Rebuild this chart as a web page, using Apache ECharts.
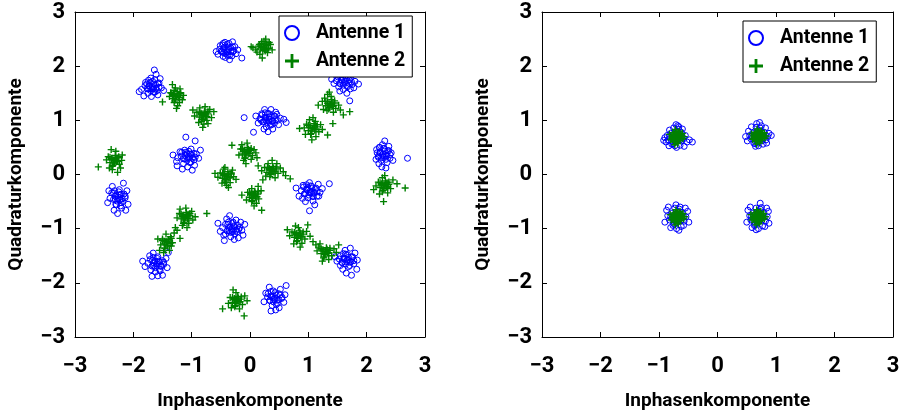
<!DOCTYPE html>
<html>
<head>
<meta charset="utf-8">
<script src="https://cdn.jsdelivr.net/npm/echarts@6/dist/echarts.min.js"></script>
<style>
  html, body { margin: 0; padding: 0; background: #fff; }
  #chart { width: 903px; height: 411px; }
</style>
</head>
<body>
<div id="chart"></div>
<script>
// Empfangene Symbole vor der Entzerrung (links) und danach (rechts), je Antenne.
const seriesNames = ['Antenne 1', 'Antenne 2'];
const axisTicks = [-3, -2, -1, 0, 1, 2, 3];
const xTitle = 'Inphasenkomponente';
const yTitle = 'Quadraturkomponente';

// Antenne 1, vor der Entzerrung
const ant1Before = [
  [-0.40,2.30],[-0.45,2.25],[-0.33,2.34],[-0.52,2.31],[-0.38,2.20],[-0.29,2.27],[-0.47,2.39],[-0.36,2.42],[-0.55,2.22],[-0.42,2.16],[-0.26,2.36],[-0.31,2.19],[-0.49,2.28],[-0.37,2.32],[-0.44,2.35],[-0.21,2.30],[-0.58,2.27],[-0.35,2.12],[-0.30,2.45],[-0.43,2.44],[-0.39,2.26],[-0.46,2.18],[-0.24,2.23],[-0.14,2.15],
  [-0.37,2.35],[-0.45,2.32],[-0.33,2.27],[-0.42,2.23],[-0.30,2.36],[-0.48,2.26],[-0.39,2.40],[-0.51,2.38],[-0.35,2.20],[-0.46,2.42],[-0.28,2.29],[-0.40,2.27],
  [-1.68,1.62],[-1.62,1.66],[-1.74,1.58],[-1.59,1.55],[-1.71,1.70],[-1.80,1.64],[-1.65,1.52],[-1.56,1.69],[-1.75,1.50],[-1.63,1.75],[-1.86,1.57],[-1.70,1.78],[-1.52,1.60],[-1.90,1.53],[-1.58,1.47],[-1.66,1.58],[-1.77,1.67],[-1.61,1.85],[-1.64,1.93],[-1.82,1.45],[-1.69,1.44],[-1.54,1.77],[-1.48,1.55],[-1.73,1.63],
  [-1.65,1.67],[-1.73,1.64],[-1.61,1.59],[-1.70,1.55],[-1.58,1.68],[-1.76,1.58],[-1.67,1.72],[-1.79,1.70],[-1.63,1.52],[-1.74,1.74],[-1.56,1.61],[-1.68,1.59],
  [0.32,1.02],[0.26,1.06],[0.38,0.98],[0.22,0.97],[0.41,1.08],[0.30,1.13],[0.35,0.91],[0.17,1.03],[0.47,1.00],[0.28,0.88],[0.44,1.15],[0.20,1.12],[0.52,1.04],[0.36,1.20],[0.14,0.95],[0.39,0.84],[0.24,0.84],[0.33,1.06],[0.27,1.00],[0.49,0.92],[0.58,1.02],[0.10,1.08],[0.31,0.79],[0.06,0.78],[-0.10,1.05],[0.62,0.96],[0.42,0.95],[0.25,1.20],
  [0.35,1.07],[0.27,1.04],[0.39,0.99],[0.30,0.95],[0.42,1.08],[0.24,0.98],[0.33,1.12],[0.21,1.10],[0.37,0.92],[0.26,1.14],[0.44,1.01],[0.32,0.99],[0.46,1.11],[0.19,1.00],
  [1.62,1.72],[1.55,1.68],[1.70,1.75],[1.48,1.73],[1.66,1.64],[1.58,1.80],[1.75,1.66],[1.52,1.62],[1.68,1.82],[1.44,1.68],[1.80,1.72],[1.60,1.57],[1.72,1.58],[1.64,1.90],[1.50,1.85],[1.78,1.60],[1.57,1.75],[1.86,1.67],[1.40,1.76],[1.71,1.36],[1.66,1.50],[1.54,1.54],[1.76,1.85],
  [1.65,1.77],[1.57,1.74],[1.69,1.69],[1.60,1.65],[1.72,1.78],[1.54,1.68],[1.63,1.82],[1.51,1.80],[1.67,1.62],[1.56,1.84],[1.74,1.71],[1.62,1.69],
  [-1.06,0.33],[-1.00,0.37],[-1.12,0.29],[-0.96,0.27],[-1.10,0.41],[-1.18,0.34],[-1.03,0.22],[-0.92,0.38],[-1.14,0.20],[-1.01,0.47],[-1.24,0.31],[-0.88,0.30],[-1.07,0.14],[-0.95,0.17],[-1.20,0.42],[-1.08,0.38],[-1.26,0.24],[-1.10,0.69],[-0.94,0.62],[-1.25,0.16],[-1.32,0.36],[-0.85,0.45],[-1.16,0.10],[-0.99,0.08],
  [-1.03,0.38],[-1.11,0.35],[-0.99,0.30],[-1.08,0.26],[-0.96,0.39],[-1.14,0.29],[-1.05,0.43],[-1.17,0.41],[-1.01,0.23],[-1.12,0.45],[-0.94,0.32],[-1.06,0.30],
  [2.28,0.38],[2.23,0.42],[2.33,0.35],[2.20,0.32],[2.30,0.48],[2.36,0.44],[2.25,0.26],[2.40,0.30],[2.18,0.40],[2.27,0.55],[2.35,0.22],[2.21,0.20],[2.31,0.62],[2.42,0.40],[2.16,0.28],[2.26,0.14],[2.38,0.52],[2.33,0.12],[2.22,0.50],[2.70,0.30],[2.29,0.32],[2.45,0.26],
  [2.31,0.43],[2.23,0.40],[2.35,0.35],[2.26,0.31],[2.38,0.44],[2.20,0.34],[2.29,0.48],[2.17,0.46],[2.33,0.28],[2.22,0.50],[2.40,0.37],[2.28,0.35],
  [-2.26,-0.42],[-2.21,-0.37],[-2.31,-0.46],[-2.18,-0.50],[-2.34,-0.34],[-2.24,-0.28],[-2.29,-0.56],[-2.14,-0.40],[-2.40,-0.44],[-2.20,-0.62],[-2.36,-0.22],[-2.11,-0.30],[-2.33,-0.66],[-2.17,-0.16],[-2.44,-0.52],[-2.27,-0.72],[-2.09,-0.55],[-2.42,-0.30],[-2.23,-0.47],[-2.30,-0.38],[-2.13,-0.66],
  [-2.23,-0.37],[-2.31,-0.40],[-2.19,-0.45],[-2.28,-0.49],[-2.16,-0.36],[-2.34,-0.46],[-2.25,-0.32],[-2.37,-0.34],[-2.21,-0.52],[-2.32,-0.30],[-2.14,-0.43],[-2.26,-0.45],[-2.22,-0.58],[-2.30,-0.55],
  [1.03,-0.31],[0.97,-0.27],[1.09,-0.35],[0.93,-0.36],[1.06,-0.22],[1.12,-0.28],[0.99,-0.43],[1.15,-0.40],[0.88,-0.30],[1.02,-0.15],[1.20,-0.33],[0.91,-0.20],[1.08,-0.49],[0.84,-0.40],[1.17,-0.18],[0.95,-0.50],[1.24,-0.26],[1.36,-0.17],[1.02,-0.67],[0.79,-0.25],[1.11,-0.56],[1.05,-0.33],[0.99,-0.24],
  [1.06,-0.26],[0.98,-0.29],[1.10,-0.34],[1.01,-0.38],[1.13,-0.25],[0.95,-0.35],[1.04,-0.21],[0.92,-0.23],[1.08,-0.41],[0.97,-0.19],[1.15,-0.32],[1.03,-0.34],[0.90,-0.44],[1.18,-0.40],
  [-0.31,-1.00],[-0.26,-0.96],[-0.36,-1.04],[-0.22,-1.06],[-0.38,-0.92],[-0.29,-0.88],[-0.42,-1.10],[-0.18,-0.98],[-0.33,-1.15],[-0.47,-0.98],[-0.24,-0.84],[-0.14,-1.03],[-0.40,-0.82],[-0.51,-1.05],[-0.27,-1.20],[-0.12,-1.12],[-0.55,-0.90],[-0.35,-0.76],[-0.20,-1.17],[-0.44,-1.22],[-0.30,-1.06],[-0.34,-0.97],[-0.09,-0.92],
  [-0.28,-0.95],[-0.36,-0.98],[-0.24,-1.03],[-0.33,-1.07],[-0.21,-0.94],[-0.39,-1.04],[-0.30,-0.90],[-0.42,-0.92],[-0.26,-1.10],[-0.37,-0.88],[-0.19,-1.01],[-0.31,-1.03],[-0.45,-1.12],[-0.16,-0.88],
  [-1.60,-1.65],[-1.55,-1.61],[-1.65,-1.69],[-1.52,-1.70],[-1.67,-1.58],[-1.58,-1.52],[-1.70,-1.76],[-1.48,-1.62],[-1.62,-1.80],[-1.75,-1.64],[-1.54,-1.78],[-1.44,-1.55],[-1.72,-1.50],[-1.80,-1.70],[-1.58,-1.87],[-1.42,-1.72],[-1.66,-1.45],[-1.84,-1.60],[-1.50,-1.86],[-1.63,-1.60],[-1.40,-1.44],[-1.68,-1.88],
  [-1.57,-1.60],[-1.65,-1.63],[-1.53,-1.68],[-1.62,-1.72],[-1.50,-1.59],[-1.68,-1.69],[-1.59,-1.55],[-1.71,-1.57],[-1.55,-1.75],[-1.66,-1.53],[-1.48,-1.66],[-1.60,-1.68],
  [1.66,-1.58],[1.61,-1.54],[1.71,-1.62],[1.58,-1.63],[1.74,-1.52],[1.64,-1.47],[1.69,-1.70],[1.53,-1.56],[1.78,-1.65],[1.55,-1.68],[1.80,-1.45],[1.63,-1.40],[1.49,-1.60],[1.84,-1.58],[1.72,-1.36],[1.83,-1.75],[1.65,-1.82],[1.74,-1.86],[1.46,-1.52],[1.68,-1.57],[1.59,-1.75],
  [1.69,-1.53],[1.61,-1.56],[1.73,-1.61],[1.64,-1.65],[1.76,-1.52],[1.58,-1.62],[1.67,-1.48],[1.55,-1.50],[1.71,-1.68],[1.60,-1.46],[1.78,-1.59],[1.66,-1.61],
  [0.42,-2.28],[0.37,-2.24],[0.47,-2.32],[0.34,-2.33],[0.49,-2.20],[0.40,-2.15],[0.45,-2.40],[0.30,-2.26],[0.55,-2.27],[0.38,-2.42],[0.52,-2.12],[0.27,-2.19],[0.58,-2.36],[0.33,-2.08],[0.44,-2.50],[0.24,-2.35],[0.60,-2.22],[0.50,-2.46],[0.36,-2.52],[0.41,-2.30],[0.62,-2.05],
  [0.45,-2.23],[0.37,-2.26],[0.49,-2.31],[0.40,-2.35],[0.52,-2.22],[0.34,-2.32],[0.43,-2.18],[0.31,-2.20],[0.47,-2.38],[0.36,-2.16],[0.54,-2.29],[0.42,-2.31]
];

// Antenne 2, vor der Entzerrung
const ant2Before = [
  [0.23,2.35],[0.18,2.32],[0.28,2.38],[0.14,2.37],[0.26,2.28],[0.20,2.42],[0.32,2.33],[0.10,2.30],[0.24,2.46],[0.35,2.40],[0.17,2.22],[0.30,2.25],[0.05,2.34],[0.38,2.30],[0.21,2.15],[0.02,2.36],[0.27,2.50],[0.12,2.26],[0.33,2.44],[0.25,2.31],
  [0.26,2.39],[0.19,2.36],[0.29,2.32],[0.22,2.29],[0.16,2.40],[0.31,2.41],[0.24,2.34],[0.20,2.45],
  [-1.27,1.45],[-1.31,1.48],[-1.22,1.42],[-1.33,1.40],[-1.25,1.53],[-1.19,1.49],[-1.29,1.36],[-1.36,1.51],[-1.21,1.33],[-1.28,1.60],[-1.16,1.38],[-1.38,1.44],[-1.24,1.27],[-1.33,1.66],[-1.14,1.46],[-1.50,1.34],[-1.26,1.22],[-1.30,1.55],[-1.20,1.58],
  [-1.24,1.49],[-1.31,1.46],[-1.21,1.42],[-1.28,1.39],[-1.34,1.50],[-1.19,1.51],[-1.26,1.44],[-1.30,1.33],
  [-0.80,1.10],[-0.84,1.13],[-0.76,1.07],[-0.87,1.06],[-0.78,1.17],[-0.72,1.12],[-0.83,1.01],[-0.91,1.15],[-0.74,1.00],[-0.69,1.20],[-0.86,1.23],[-0.95,1.08],[-0.79,0.93],[-0.66,1.05],[-0.81,0.87],[-0.62,1.16],[-0.98,1.19],[-0.88,0.96],[-0.77,1.25],[-0.72,0.94],
  [-0.77,1.14],[-0.84,1.11],[-0.74,1.07],[-0.81,1.04],[-0.87,1.15],[-0.72,1.16],[-0.79,1.09],[-0.83,0.98],
  [1.37,1.30],[1.33,1.34],[1.41,1.26],[1.30,1.27],[1.40,1.38],[1.45,1.32],[1.35,1.21],[1.28,1.41],[1.47,1.22],[1.33,1.48],[1.43,1.15],[1.24,1.35],[1.52,1.28],[1.39,1.44],[1.17,1.28],[1.71,1.16],[1.42,0.94],[1.55,1.19],[1.26,1.20],[1.36,1.52],[1.60,1.10],
  [1.40,1.34],[1.33,1.31],[1.43,1.27],[1.36,1.24],[1.30,1.35],[1.45,1.36],[1.38,1.29],[1.32,1.18],
  [1.07,0.86],[1.03,0.90],[1.11,0.83],[1.00,0.81],[1.10,0.94],[1.15,0.88],[1.05,0.76],[0.97,0.93],[1.18,0.79],[1.02,1.01],[1.13,0.70],[0.93,0.86],[1.21,0.92],[1.08,1.05],[0.85,0.85],[1.33,0.73],[1.06,0.64],[0.95,0.74],[1.24,0.83],[1.12,0.98],
  [1.10,0.90],[1.03,0.87],[1.13,0.83],[1.06,0.80],[1.00,0.91],[1.15,0.92],[1.08,0.85],[1.04,0.74],
  [-2.33,0.27],[-2.37,0.30],[-2.29,0.24],[-2.40,0.22],[-2.31,0.35],[-2.26,0.31],[-2.35,0.17],[-2.43,0.33],[-2.24,0.19],[-2.30,0.43],[-2.20,0.26],[-2.46,0.27],[-2.36,0.09],[-2.38,0.46],[-2.22,0.12],[-2.60,0.14],[-2.27,0.04],[-2.41,0.12],[-2.19,0.36],[-2.32,0.23],
  [-2.30,0.31],[-2.37,0.28],[-2.27,0.24],[-2.34,0.21],[-2.40,0.32],[-2.25,0.33],[-2.32,0.26],[-2.36,0.15],
  [-0.06,0.42],[-0.10,0.45],[-0.02,0.39],[-0.13,0.38],[-0.04,0.50],[0.01,0.44],[-0.08,0.32],[-0.16,0.47],[0.04,0.35],[-0.05,0.58],[0.07,0.46],[-0.19,0.36],[-0.11,0.26],[0.02,0.28],[-0.31,0.54],[0.10,0.40],[-0.07,0.20],[-0.14,0.55],[0.12,0.31],[-0.03,0.45],
  [-0.03,0.46],[-0.10,0.43],[0.00,0.39],[-0.07,0.36],[-0.13,0.47],[0.02,0.48],[-0.05,0.41],[-0.09,0.30],
  [0.37,0.08],[0.33,0.11],[0.41,0.05],[0.29,0.04],[0.39,0.15],[0.45,0.10],[0.35,0.00],[0.25,0.13],[0.48,0.02],[0.31,0.20],[0.52,0.12],[0.20,0.07],[0.43,-0.06],[0.27,-0.03],[0.57,0.05],[0.14,0.16],[0.61,-0.02],[0.38,0.26],[0.22,-0.10],[0.46,0.20],[0.69,-0.08],
  [0.40,0.12],[0.33,0.09],[0.43,0.05],[0.36,0.02],[0.30,0.13],[0.45,0.14],[0.38,0.07],[0.34,-0.04],
  [-0.40,-0.03],[-0.44,0.00],[-0.36,-0.06],[-0.47,-0.07],[-0.38,0.05],[-0.32,0.01],[-0.42,-0.12],[-0.51,0.03],[-0.34,-0.15],[-0.45,0.10],[-0.28,-0.04],[-0.55,-0.05],[-0.40,-0.20],[-0.30,0.08],[-0.48,-0.16],[-0.60,0.02],[-0.37,-0.24],[-0.24,-0.09],[-0.43,0.13],
  [-0.37,0.01],[-0.44,-0.02],[-0.34,-0.06],[-0.41,-0.09],[-0.47,0.02],[-0.32,0.03],[-0.39,-0.04],[-0.43,-0.15],
  [0.06,-0.38],[0.02,-0.35],[0.10,-0.41],[-0.01,-0.42],[0.08,-0.31],[0.13,-0.36],[0.04,-0.48],[-0.04,-0.33],[0.15,-0.45],[0.03,-0.26],[0.11,-0.53],[-0.14,-0.38],[0.19,-0.30],[0.07,-0.58],[0.20,-0.66],[-0.06,-0.47],[0.14,-0.22],[0.09,-0.40],
  [0.09,-0.34],[0.02,-0.37],[0.12,-0.41],[0.05,-0.44],[-0.01,-0.33],[0.14,-0.32],[0.07,-0.39],[0.03,-0.50],
  [2.30,-0.20],[2.26,-0.17],[2.34,-0.23],[2.23,-0.24],[2.32,-0.12],[2.38,-0.18],[2.28,-0.29],[2.20,-0.14],[2.41,-0.26],[2.27,-0.06],[2.36,-0.34],[2.16,-0.21],[2.45,-0.10],[2.31,-0.02],[2.12,-0.28],[2.66,-0.25],[2.29,-0.50],[2.52,-0.17],[2.22,-0.36],[2.35,-0.15],
  [2.33,-0.16],[2.26,-0.19],[2.36,-0.23],[2.29,-0.26],[2.23,-0.15],[2.38,-0.14],[2.31,-0.21],[2.27,-0.32],
  [-1.11,-0.78],[-1.15,-0.75],[-1.07,-0.81],[-1.18,-0.82],[-1.09,-0.70],[-1.03,-0.76],[-1.13,-0.88],[-1.21,-0.72],[-1.05,-0.90],[-1.10,-0.62],[-0.98,-0.84],[-1.25,-0.80],[-1.16,-0.94],[-1.00,-0.68],[-0.74,-0.72],[-1.20,-0.64],[-0.94,-0.78],[-1.08,-0.98],[-1.13,-0.80],
  [-1.08,-0.74],[-1.15,-0.77],[-1.05,-0.81],[-1.12,-0.84],[-1.18,-0.73],[-1.03,-0.72],[-1.10,-0.79],[-1.14,-0.90],
  [-1.43,-1.24],[-1.47,-1.28],[-1.39,-1.20],[-1.50,-1.22],[-1.41,-1.32],[-1.36,-1.15],[-1.46,-1.36],[-1.53,-1.30],[-1.33,-1.26],[-1.44,-1.10],[-1.30,-1.08],[-1.55,-1.40],[-1.38,-1.40],[-1.25,-1.03],[-1.58,-1.19],[-1.35,-1.32],[-1.20,-1.18],[-1.48,-1.44],[-1.28,-0.98],
  [-1.40,-1.20],[-1.47,-1.23],[-1.37,-1.27],[-1.44,-1.30],[-1.50,-1.19],[-1.35,-1.18],[-1.42,-1.25],[-1.46,-1.36],
  [0.83,-1.12],[0.79,-1.09],[0.87,-1.15],[0.76,-1.16],[0.85,-1.04],[0.91,-1.10],[0.81,-1.22],[0.72,-1.06],[0.94,-1.19],[0.83,-0.98],[0.97,-1.05],[0.68,-1.13],[0.89,-1.27],[0.75,-1.28],[0.99,-0.93],[0.64,-1.02],[0.86,-1.34],[0.78,-0.95],[1.03,-1.14],
  [0.86,-1.08],[0.79,-1.11],[0.89,-1.15],[0.82,-1.18],[0.76,-1.07],[0.91,-1.06],[0.84,-1.13],[0.80,-1.24],
  [1.29,-1.42],[1.25,-1.39],[1.33,-1.45],[1.22,-1.46],[1.31,-1.35],[1.37,-1.40],[1.27,-1.52],[1.18,-1.34],[1.40,-1.50],[1.20,-1.28],[1.44,-1.37],[1.13,-1.30],[1.35,-1.57],[1.08,-1.24],[1.48,-1.44],[1.24,-1.60],[1.15,-1.41],[1.52,-1.30],[1.30,-1.47],
  [1.32,-1.38],[1.25,-1.41],[1.35,-1.45],[1.28,-1.48],[1.22,-1.37],[1.37,-1.36],[1.30,-1.43],[1.26,-1.54],
  [-0.23,-2.32],[-0.27,-2.29],[-0.19,-2.35],[-0.30,-2.36],[-0.21,-2.25],[-0.15,-2.30],[-0.25,-2.42],[-0.34,-2.27],[-0.13,-2.40],[-0.24,-2.18],[-0.09,-2.24],[-0.37,-2.38],[-0.18,-2.48],[-0.29,-2.13],[-0.47,-2.48],[-0.10,-2.61],[-0.05,-2.33],[-0.32,-2.46],[-0.22,-2.34],
  [-0.20,-2.28],[-0.27,-2.31],[-0.17,-2.35],[-0.24,-2.38],[-0.30,-2.27],[-0.15,-2.26],[-0.22,-2.33],[-0.26,-2.44]
];

// Antenne 1, nach der Entzerrung
const ant1After = [
  [-0.71,0.70],[-0.80,0.76],[-0.62,0.78],[-0.84,0.64],[-0.58,0.66],[-0.75,0.86],[-0.66,0.88],[-0.86,0.72],[-0.55,0.72],[-0.78,0.56],[-0.64,0.54],[-0.70,0.50],[-0.88,0.60],[-0.52,0.60],[-0.82,0.82],[-0.60,0.84],[-0.71,0.92],[-0.90,0.68],[-0.73,0.53],[-0.57,0.52],[-0.92,0.63],[-0.48,0.64],[-0.43,0.60],[-0.68,0.90],[-0.83,0.53],[-0.62,0.62],[-0.77,0.66],
  [-0.66,0.74],[-0.76,0.73],[-0.64,0.64],[-0.78,0.62],[-0.70,0.80],[-0.72,0.60],[-0.60,0.70],[-0.82,0.70],[-0.67,0.84],[-0.76,0.57],
  [0.70,0.71],[0.60,0.76],[0.80,0.78],[0.57,0.66],[0.83,0.64],[0.66,0.87],[0.75,0.90],[0.55,0.72],[0.86,0.70],[0.62,0.58],[0.78,0.56],[0.70,0.53],[0.53,0.80],[0.88,0.76],[0.58,0.88],[0.82,0.86],[0.72,0.96],[0.51,0.62],[0.92,0.72],[0.65,0.52],[0.84,0.58],[0.48,0.70],[0.67,0.94],[0.76,0.62],[0.63,0.68],
  [0.74,0.75],[0.65,0.74],[0.76,0.65],[0.63,0.63],[0.70,0.82],[0.68,0.60],[0.80,0.71],[0.59,0.71],[0.73,0.86],[0.64,0.57],
  [-0.69,-0.78],[-0.79,-0.72],[-0.60,-0.70],[-0.82,-0.84],[-0.57,-0.86],[-0.73,-0.62],[-0.64,-0.60],[-0.85,-0.76],[-0.54,-0.78],[-0.76,-0.94],[-0.62,-0.96],[-0.70,-1.00],[-0.87,-0.66],[-0.51,-0.68],[-0.80,-0.98],[-0.58,-0.94],[-0.71,-0.56],[-0.90,-0.88],[-0.49,-0.88],[-0.66,-1.03],[-0.84,-0.60],[-0.55,-0.62],[-0.75,-0.82],[-0.63,-0.74],
  [-0.64,-0.74],[-0.74,-0.75],[-0.62,-0.84],[-0.76,-0.86],[-0.68,-0.68],[-0.70,-0.89],[-0.58,-0.78],[-0.80,-0.78],[-0.65,-0.64],[-0.74,-0.92],
  [0.69,-0.78],[0.60,-0.72],[0.79,-0.70],[0.57,-0.84],[0.82,-0.86],[0.66,-0.62],[0.75,-0.61],[0.55,-0.76],[0.85,-0.78],[0.63,-0.94],[0.77,-0.95],[0.70,-1.00],[0.52,-0.66],[0.87,-0.68],[0.59,-0.98],[0.81,-0.96],[0.73,-0.53],[0.50,-0.88],[0.88,-0.90],[0.66,-1.02],[0.84,-0.62],[0.56,-0.60],[0.74,-0.82],[0.64,-0.74],
  [0.74,-0.74],[0.64,-0.75],[0.76,-0.84],[0.62,-0.86],[0.70,-0.68],[0.68,-0.89],[0.80,-0.78],[0.58,-0.78],[0.73,-0.64],[0.64,-0.92]
];

// Antenne 2, nach der Entzerrung
const ant2After = [
  [-0.70,0.70],[-0.74,0.73],[-0.66,0.67],[-0.73,0.65],[-0.67,0.75],[-0.78,0.70],[-0.62,0.71],[-0.71,0.79],[-0.69,0.61],[-0.76,0.77],[-0.64,0.63],[-0.80,0.64],[-0.60,0.76],[-0.72,0.83],[-0.68,0.57],[-0.82,0.74],[-0.59,0.66],[-0.75,0.60],[-0.65,0.80],[-0.71,0.68],[-0.77,0.68],[-0.63,0.73],[-0.69,0.74],[-0.73,0.55],[-0.57,0.70],
  [-0.68,0.72],[-0.72,0.71],[-0.70,0.66],[-0.67,0.69],[-0.73,0.74],[-0.66,0.76],[-0.74,0.68],[-0.71,0.63],[-0.65,0.70],[-0.69,0.77],[-0.75,0.72],[-0.63,0.67],[-0.72,0.78],[-0.67,0.62],[-0.78,0.66],
  [0.70,0.71],[0.66,0.74],[0.74,0.68],[0.67,0.66],[0.73,0.76],[0.62,0.71],[0.78,0.72],[0.69,0.80],[0.71,0.62],[0.64,0.78],[0.76,0.64],[0.60,0.65],[0.80,0.77],[0.68,0.84],[0.72,0.58],[0.58,0.75],[0.81,0.67],[0.65,0.61],[0.75,0.81],[0.69,0.69],[0.63,0.69],[0.77,0.74],[0.71,0.75],[0.67,0.56],[0.83,0.71],
  [0.72,0.73],[0.68,0.72],[0.70,0.67],[0.73,0.70],[0.67,0.75],[0.74,0.77],[0.66,0.69],[0.69,0.64],[0.75,0.71],[0.71,0.78],[0.65,0.73],[0.77,0.68],[0.68,0.79],[0.73,0.63],[0.62,0.67],
  [-0.69,-0.78],[-0.73,-0.75],[-0.65,-0.81],[-0.72,-0.83],[-0.66,-0.73],[-0.77,-0.78],[-0.61,-0.77],[-0.70,-0.69],[-0.68,-0.87],[-0.75,-0.71],[-0.63,-0.85],[-0.79,-0.84],[-0.59,-0.72],[-0.71,-0.65],[-0.67,-0.91],[-0.81,-0.74],[-0.58,-0.82],[-0.74,-0.88],[-0.64,-0.68],[-0.70,-0.80],[-0.76,-0.80],[-0.62,-0.75],[-0.68,-0.74],[-0.72,-0.93],[-0.56,-0.78],
  [-0.67,-0.76],[-0.71,-0.77],[-0.69,-0.82],[-0.66,-0.79],[-0.72,-0.74],[-0.65,-0.72],[-0.73,-0.80],[-0.70,-0.85],[-0.64,-0.78],[-0.68,-0.71],[-0.74,-0.76],[-0.62,-0.81],[-0.71,-0.70],[-0.66,-0.86],[-0.77,-0.82],
  [0.69,-0.78],[0.65,-0.75],[0.73,-0.81],[0.66,-0.83],[0.72,-0.73],[0.61,-0.78],[0.77,-0.77],[0.68,-0.69],[0.70,-0.87],[0.63,-0.71],[0.75,-0.85],[0.59,-0.84],[0.79,-0.72],[0.67,-0.65],[0.71,-0.91],[0.57,-0.74],[0.80,-0.82],[0.64,-0.88],[0.74,-0.68],[0.68,-0.80],[0.62,-0.80],[0.76,-0.75],[0.70,-0.74],[0.66,-0.93],[0.82,-0.78],
  [0.71,-0.76],[0.67,-0.77],[0.69,-0.82],[0.72,-0.79],[0.66,-0.74],[0.73,-0.72],[0.65,-0.80],[0.68,-0.85],[0.74,-0.78],[0.70,-0.71],[0.64,-0.76],[0.76,-0.81],[0.67,-0.70],[0.72,-0.86],[0.61,-0.82]
];

const BLUE = '#0000ff';
const GREEN = '#008000';
const FONT = 'Roboto, "Liberation Sans", sans-serif';
const PLUS = 'path://M4,0H6V4H10V6H6V10H4V6H0V4H4Z';

const fmt = v => (v < 0 ? '\u2212' + (-v) : String(v));

const grids = [
  { left: 75, top: 12, width: 350, height: 325, outerBoundsMode: 'none', containLabel: false },
  { left: 542, top: 12, width: 351, height: 325, outerBoundsMode: 'none', containLabel: false }
];

function makeAxis(dim, gridIndex, position, main) {
  const ax = {
    type: 'value',
    gridIndex,
    position,
    min: axisTicks[0],
    max: axisTicks[axisTicks.length - 1],
    interval: 1,
    splitLine: { show: false },
    axisLine: { show: true, onZero: false, lineStyle: { color: '#000', width: 1 } },
    axisTick: { show: true, inside: true, length: 5, lineStyle: { color: '#000', width: 1 } },
    axisLabel: {
      show: main,
      formatter: fmt,
      color: '#000',
      fontFamily: FONT,
      fontWeight: 'bold',
      fontSize: 22,
      margin: dim === 'x' ? 18 : 10,
      showMinLabel: true,
      showMaxLabel: true
    }
  };
  if (main) {
    ax.name = dim === 'x' ? xTitle : yTitle;
    ax.nameLocation = 'middle';
    ax.nameGap = dim === 'x' ? 55 : 49;
    ax.nameTextStyle = { color: '#000', fontFamily: FONT, fontWeight: 'bold', fontSize: 19 };
  }
  return ax;
}

const xAxes = [], yAxes = [];
grids.forEach((g, i) => {
  xAxes.push(makeAxis('x', i, 'bottom', true));
  xAxes.push(makeAxis('x', i, 'top', false));
  yAxes.push(makeAxis('y', i, 'left', true));
  yAxes.push(makeAxis('y', i, 'right', false));
});

function circleSeries(data, gi) {
  return {
    name: seriesNames[0], type: 'scatter', data,
    xAxisIndex: gi * 2, yAxisIndex: gi * 2,
    symbol: 'circle', symbolSize: 6,
    itemStyle: { color: 'rgba(0,0,0,0)', borderColor: BLUE, borderWidth: 1, opacity: 1 },
    emphasis: { disabled: true }, animation: false, z: 2
  };
}
function plusSeries(data, gi) {
  return {
    name: seriesNames[1], type: 'scatter', data,
    xAxisIndex: gi * 2, yAxisIndex: gi * 2,
    symbol: PLUS, symbolSize: 7,
    itemStyle: { color: GREEN, opacity: 1 },
    emphasis: { disabled: true }, animation: false, z: 3
  };
}

function makeLegend(left, top) {
  return {
    orient: 'vertical', left, top,
    backgroundColor: '#fff', borderColor: '#000', borderWidth: 1, borderRadius: 0,
    padding: [6, 7, 5, 5], itemGap: 6, itemWidth: 38, itemHeight: 14,
    selectedMode: false, z: 10,
    textStyle: { color: '#000', fontFamily: FONT, fontWeight: 'bold', fontSize: 19.5, lineHeight: 22 },
    data: [
      { name: seriesNames[0], icon: 'circle', itemStyle: { color: 'rgba(0,0,0,0)', borderColor: BLUE, borderWidth: 2, opacity: 1 } },
      { name: seriesNames[1], icon: PLUS, itemStyle: { color: GREEN, borderWidth: 0, opacity: 1 } }
    ]
  };
}

const chart = echarts.init(document.getElementById('chart'), null, { renderer: 'canvas' });
chart.setOption({
  backgroundColor: '#fff',
  animation: false,
  grid: grids,
  xAxis: xAxes,
  yAxis: yAxes,
  legend: [makeLegend(279, 16), makeLegend(743, 21)],
  series: [
    circleSeries(ant1Before, 0), plusSeries(ant2Before, 0),
    circleSeries(ant1After, 1), plusSeries(ant2After, 1)
  ]
});
</script>
</body>
</html>
